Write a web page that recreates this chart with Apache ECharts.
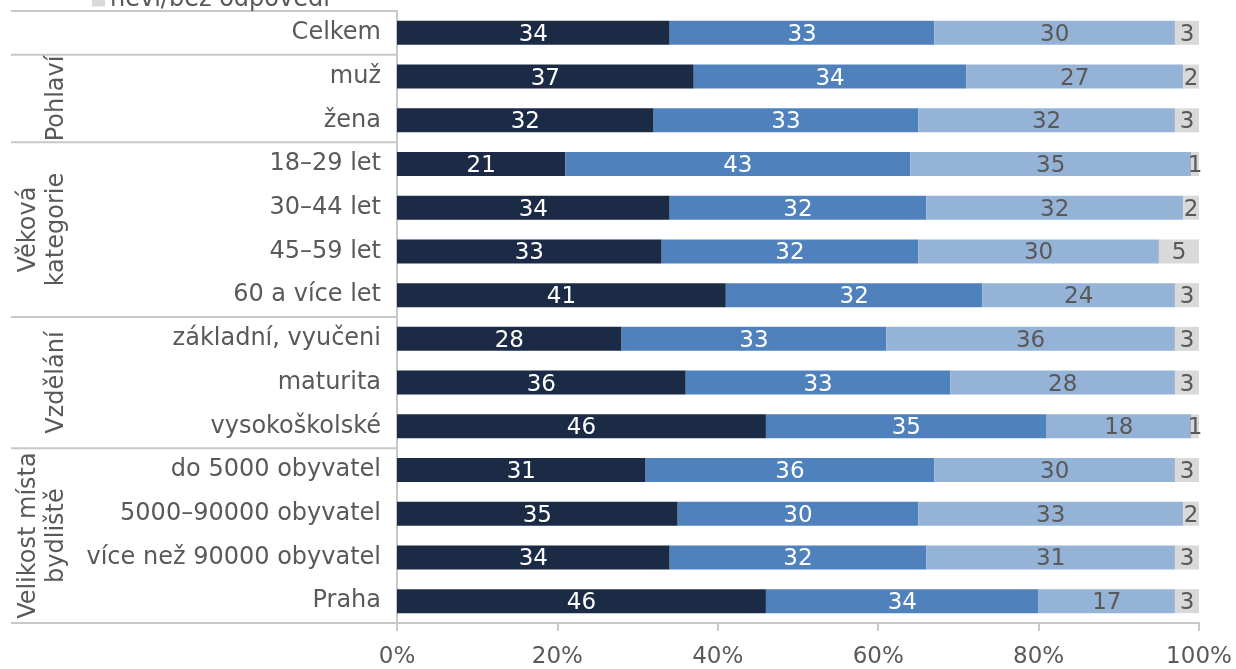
<!DOCTYPE html>
<html>
<head>
<meta charset="utf-8">
<script src="https://cdn.jsdelivr.net/npm/echarts@6/dist/echarts.min.js"></script>
<style>
  html, body { margin: 0; padding: 0; background: #ffffff; }
  #chart { width: 1236px; height: 669px; }
</style>
</head>
<body>
<div id="chart"></div>
<script>
// ---- data ----
const categories = [
  'Celkem', 'muž', 'žena',
  '18–29 let', '30–44 let', '45–59 let', '60 a více let',
  'základní, vyučeni', 'maturita', 'vysokoškolské',
  'do 5000 obyvatel', '5000–90000 obyvatel', 'více než 90000 obyvatel', 'Praha'
];
const seriesNames = ['odpověď 1', 'odpověď 2', 'odpověď 3', 'neví/bez odpovědi'];
const values1 = [34, 37, 32, 21, 34, 33, 41, 28, 36, 46, 31, 35, 34, 46];
const values2 = [33, 34, 33, 43, 32, 32, 32, 33, 33, 35, 36, 30, 32, 34];
const values3 = [30, 27, 32, 35, 32, 30, 24, 36, 28, 18, 30, 33, 31, 17];
const values4 = [3, 2, 3, 1, 2, 5, 3, 3, 3, 1, 3, 2, 3, 3];
const xTicks = [0, 20, 40, 60, 80, 100];
// groups of categories (first index, last index, label)
const groupNames = ['Pohlaví', 'Věková\nkategorie', 'Vzdělání', 'Velikost místa\nbydliště'];
const groupStart = [1, 3, 7, 10];
const groupEnd = [2, 6, 9, 13];

// ---- styles ----
const colors = ['#1B2A45', '#4F81BD', '#95B3D7', '#D9D9D9'];
const labelColors = ['#ffffff', '#ffffff', '#595959', '#595959'];
const FONT = 'DejaVu Sans';
const textGray = '#595959';
const lineGray = '#C8C8C8';

const chart = echarts.init(document.getElementById('chart'), null, { renderer: 'canvas' });
const allValues = [values1, values2, values3, values4];

const option = {
  animation: false,
  backgroundColor: '#ffffff',
  textStyle: { fontFamily: FONT },
  legend: {
    data: [seriesNames[3]],
    left: 92,
    top: -12,
    padding: 0,
    icon: 'rect',
    itemWidth: 13,
    itemHeight: 13,
    itemGap: 10,
    textStyle: { fontFamily: FONT, fontSize: 24, color: textGray }
  },
  grid: { left: 397, right: 37, top: 11, bottom: 41, containLabel: false },
  xAxis: {
    type: 'value',
    min: xTicks[0],
    max: xTicks[xTicks.length - 1],
    interval: xTicks[1] - xTicks[0],
    axisLine: { show: true, lineStyle: { color: lineGray, width: 2 } },
    axisTick: { show: true, length: 8, lineStyle: { color: lineGray, width: 2 } },
    splitLine: { show: false },
    axisLabel: {
      formatter: '{value}%',
      fontFamily: FONT, fontSize: 23, color: textGray, margin: 23
    }
  },
  yAxis: {
    type: 'category',
    inverse: true,
    data: categories,
    axisLine: { show: true, lineStyle: { color: lineGray, width: 2 } },
    axisTick: { show: false },
    axisLabel: { fontFamily: FONT, fontSize: 24, color: textGray, margin: 16, padding: [6, 0, 0, 0] }
  },
  series: allValues.map((vals, i) => ({
    name: seriesNames[i],
    type: 'bar',
    stack: 'total',
    barWidth: 24,
    data: vals,
    itemStyle: { color: colors[i] },
    label: {
      show: true,
      position: 'inside',
      offset: [0, 2],
      fontFamily: FONT,
      fontSize: 23,
      color: labelColors[i]
    }
  }))
};

chart.setOption(option);

// ---- group separators and rotated group labels ----
function buildGraphics() {
  const centers = categories.map((c) => chart.convertToPixel({ yAxisIndex: 0 }, c));
  const band = centers[1] - centers[0];
  const boundary = (i) => centers[0] + (i - 0.5) * band; // top edge of category i
  const x0 = 11, x1 = 397;
  const graphics = [];
  const lineIdx = [0, 1, 3, 7, 10, categories.length];
  lineIdx.forEach((i) => {
    const y = boundary(i);
    graphics.push({
      type: 'line',
      shape: { x1: x0, y1: y, x2: x1, y2: y },
      style: { stroke: lineGray, lineWidth: 2 },
      silent: true
    });
  });
  groupNames.forEach((name, g) => {
    const yTop = boundary(groupStart[g]);
    const yBot = boundary(groupEnd[g] + 1);
    const twoLines = name.indexOf('\n') >= 0;
    graphics.push({
      type: 'text',
      x: twoLines ? 43 : 57,
      y: (yTop + yBot) / 2,
      rotation: Math.PI / 2,
      style: {
        text: name,
        fontFamily: FONT,
        fontSize: 24,
        fill: textGray,
        align: 'center',
        verticalAlign: 'middle',
        lineHeight: 28
      },
      silent: true
    });
  });
  chart.setOption({ graphic: graphics });
}
buildGraphics();
</script>
</body>
</html>
